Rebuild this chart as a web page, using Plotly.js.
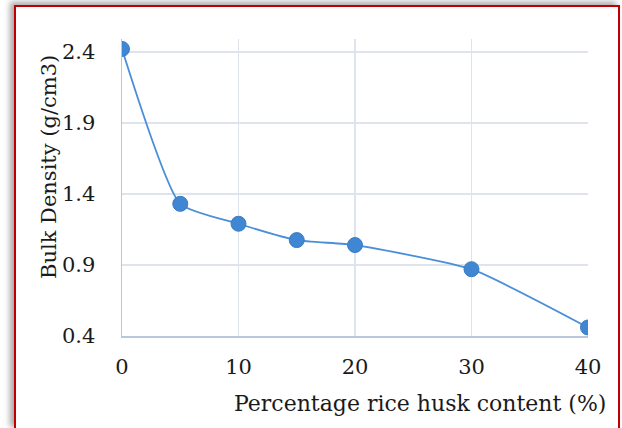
<!DOCTYPE html>
<html>
<head>
<meta charset="utf-8">
<script src="https://cdn.plot.ly/plotly-3.0.1.min.js"></script>
<style>
  html, body { margin: 0; padding: 0; background: #ffffff; }
  #wrap { position: relative; width: 622px; height: 428px; overflow: hidden; background: #ffffff; }
  #chart { position: absolute; left: 0; top: 0; width: 622px; height: 428px; }
  #frame { position: absolute; left: 14px; top: 5px; width: 602px; height: 421px;
           border: 2.5px solid #c00000; box-shadow: -4px -3px 6px rgba(0,0,0,0.35);
           pointer-events: none; }
</style>
</head>
<body>
<div id="wrap">
  <div id="frame"></div>
  <div id="chart"></div>
</div>
<script>
// Data
const riceHuskPct = [0, 5, 10, 15, 20, 30, 40];
const bulkDensity = [2.42, 1.33, 1.19, 1.075, 1.04, 0.87, 0.46];
const xTickVals = [0, 10, 20, 30, 40];
const yTickVals = [0.4, 0.9, 1.4, 1.9, 2.4];
const xTitle = 'Percentage rice husk content (%)';
const yTitle = 'Bulk Density (g/cm3)';

const FONT = 'DejaVu Serif, serif';

const trace = {
  x: riceHuskPct,
  y: bulkDensity,
  type: 'scatter',
  mode: 'lines+markers',
  line: { shape: 'spline', smoothing: 0.5, color: '#4a8fd8', width: 1.8 },
  marker: { size: 15, color: '#3f87d3', line: { color: '#3a7cc4', width: 1 } },
  hoverinfo: 'skip'
};

const layout = {
  width: 622,
  height: 428,
  margin: { l: 122, r: 34, t: 39, b: 92 },
  paper_bgcolor: 'rgba(0,0,0,0)',
  plot_bgcolor: 'rgba(0,0,0,0)',
  showlegend: false,
  font: { family: FONT, size: 21, color: '#1a1a1a' },
  xaxis: {
    range: [0, 40],
    tickvals: xTickVals,
    ticktext: xTickVals.map(String),
    showgrid: true,
    gridcolor: '#dfe4ec',
    gridwidth: 1.5,
    zeroline: false,
    showline: true,
    linecolor: '#b9c7dd',
    linewidth: 1.5,
    ticks: '',
    ticklabelstandoff: 11,
    tickfont: { family: FONT, size: 21, color: '#1a1a1a' }
  },
  yaxis: {
    range: [0.4, 2.49],
    tickvals: yTickVals,
    ticktext: yTickVals.map(v => v.toFixed(1)),
    showgrid: true,
    gridcolor: '#dfe4ec',
    gridwidth: 1.5,
    zeroline: false,
    showline: true,
    linecolor: '#b9c7dd',
    linewidth: 1.5,
    ticks: '',
    ticklabelstandoff: 21,
    tickfont: { family: FONT, size: 21, color: '#1a1a1a' }
  },
  annotations: [
    {
      text: xTitle, xref: 'paper', yref: 'paper',
      x: (608 - 122) / 466, y: -(403 - 336) / 297,
      xanchor: 'right', yanchor: 'middle', showarrow: false,
      font: { family: FONT, size: 22, color: '#1a1a1a' }
    },
    {
      text: yTitle, xref: 'paper', yref: 'paper',
      x: (49 - 122) / 466, y: (336 - 167) / 297,
      xanchor: 'center', yanchor: 'middle', textangle: -90, showarrow: false,
      font: { family: FONT, size: 21, color: '#1a1a1a' }
    }
  ]
};

Plotly.newPlot('chart', [trace], layout, { displayModeBar: false, staticPlot: true });
</script>
</body>
</html>
